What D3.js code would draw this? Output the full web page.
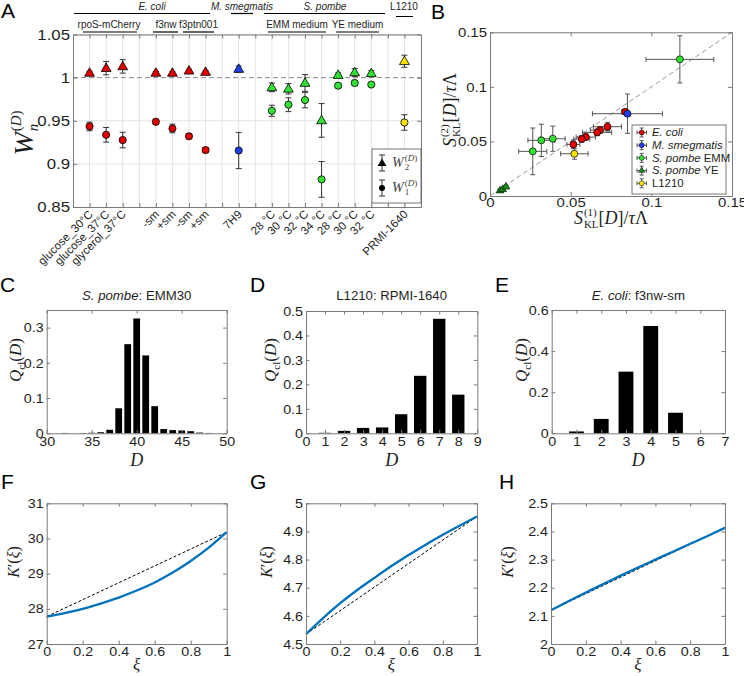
<!DOCTYPE html>
<html><head><meta charset="utf-8">
<script src="https://cdn.jsdelivr.net/npm/d3@7"></script>
<style>body{margin:0;background:#fff;} svg{display:block;}</style>
</head><body>
<svg id="fig" width="744" height="676"></svg>
<script>
// ---------------- DATA ----------------
// Panel A
const aTickLabels = ["glucose_30°C","glucose_37°C","glycerol_37°C","","-sm","+sm","-sm","+sm","","7H9","","28 °C","30 °C","32 °C","34 °C","28 °C","30 °C","32 °C","","PRMI-1640"];
const aPos   = [1,2,3,5,6,7,8,10,12,13,14,15,16,17,18,20];
const aOrg   = ["E","E","E","E","E","E","E","M","P","P","P","P","Y","Y","Y","L"];
const aW2    = [1.0055,1.011,1.013,1.0055,1.0055,1.008,1.0065,1.010,0.9887,0.987,0.9938,0.9504,1.003,1.006,1.005,1.019];
const aW2err = [0.002,0.0078,0.0078,0.0015,0.0015,0.0015,0.0015,0.0035,0.005,0.006,0.0097,0.0195,0.0025,0.0045,0.003,0.007];
const aW1    = [0.9434,0.9337,0.9276,0.9488,0.941,0.932,0.916,0.9155,0.9616,0.9686,0.974,0.882,0.9907,0.9938,0.992,0.948];
const aW1err = [0.005,0.0085,0.009,0.003,0.005,0.003,0.003,0.021,0.0064,0.008,0.009,0.0207,0.0025,0.0025,0.002,0.009];
const aYTicks = [0.85,0.9,0.95,1,1.05];
// Panel B
const bOrg  = ["E","E","E","E","E","E","E","M","P","P","P","P","Y","Y","Y","L"];
const bX    = [0.0837,0.0728,0.0682,0.0664,0.0594,0.0569,0.0517,0.0852,0.1177,0.0389,0.0318,0.0265,0.0062,0.0079,0.0099,0.0523];
const bY    = [0.0772,0.0635,0.0604,0.0583,0.054,0.0522,0.0473,0.0754,0.1252,0.0525,0.051,0.0409,0.0049,0.0061,0.0085,0.0387];
const bXerr = [0.002,0.0087,0.006,0.009,0.006,0.005,0.004,0.0217,0.021,0.0077,0.0083,0.0087,0.001,0.001,0.001,0.0085];
const bYerr = [0.002,0.004,0.003,0.003,0.003,0.003,0.004,0.018,0.0216,0.0115,0.0148,0.0214,0.001,0.001,0.001,0.005];
const bTicks = [0,0.05,0.1,0.15];
const bLegend = [["E. coli",""],["M. smegmatis",""],["S. pombe"," EMM"],["S. pombe"," YE"],["","L1210"]];
const bLegendOrg = ["E","M","P","Y","L"];
// Panel C, D, E
const cD = [31,32,33,34,35,36,37,38,39,40,41,42,43,44,45,46,47,48,49];
const cQ = [0,0.001,0,0.001,0.0015,0.003,0.010,0.071,0.253,0.326,0.221,0.077,0.012,0.009,0.008,0.006,0.002,0.001,0];
const dD = [1,2,3,4,5,6,7,8];
const dQ = [0.002,0.01,0.022,0.024,0.078,0.235,0.468,0.158];
const eD = [1,2,3,4,5];
const eQ = [0.009,0.07,0.3,0.522,0.1];
// Panel F, G, H
const xiVals = [0,0.1,0.2,0.3,0.4,0.5,0.6,0.7,0.8,0.9,1];
const kF = [27.78,27.88,28.00,28.15,28.32,28.52,28.75,29.03,29.36,29.74,30.18];
const kG = [4.535,4.592,4.645,4.692,4.735,4.777,4.816,4.853,4.888,4.921,4.953];
const kH = [2.120,2.152,2.183,2.213,2.243,2.272,2.300,2.328,2.356,2.384,2.413];

// ---------------- HELPERS ----------------
const svg = d3.select('#fig');
const SANS = '"Liberation Sans", Arial, Helvetica, sans-serif';
const SERIF = '"Liberation Serif", "Times New Roman", serif';
const AXC = '#7a7a7a';
const TXT = '#1e1e1e';
const colA = {E:'#e00000', M:'#1f3ee6', P:'#33e033', Y:'#33e033', L:'#f5e400'};
const colB = {E:'#e00000', M:'#1f3ee6', P:'#33e033', Y:'#139313', L:'#f5e400'};

function stretch(sel, f) {
  sel.each(function(){
    const w = this.getComputedTextLength();
    if (w > 0) { this.setAttribute('textLength', w * f); this.setAttribute('lengthAdjust', 'spacingAndGlyphs'); }
  });
}

function axesBox(b, xs, ys, cfg) {
  const g = svg.append('g');
  const mk = (axis, tr, labels) => {
    const a = g.append('g').attr('transform', tr).call(axis);
    a.select('.domain').attr('stroke', AXC);
    a.selectAll('.tick line').attr('stroke', AXC);
    a.selectAll('text').attr('font-family', SANS).attr('font-size', cfg.fs).attr('fill', TXT);
    if (!labels) a.selectAll('text').remove();
    return a;
  };
  const fmt = d3.format('');
  const xb = mk(d3.axisBottom(xs).tickValues(cfg.xt).tickFormat(fmt).tickSizeInner(-cfg.tl).tickSizeOuter(0).tickPadding(cfg.xp || 3), `translate(0,${b.b})`, cfg.xlabels !== false);
  mk(d3.axisTop(xs).tickValues(cfg.xt).tickSizeInner(-cfg.tl).tickSizeOuter(0), `translate(0,${b.t})`, false);
  const yl = mk(d3.axisLeft(ys).tickValues(cfg.yt).tickFormat(fmt).tickSizeInner(-cfg.tl).tickSizeOuter(0).tickPadding(cfg.yp || 3), `translate(${b.l},0)`, true);
  mk(d3.axisRight(ys).tickValues(cfg.yt).tickSizeInner(-cfg.tl).tickSizeOuter(0), `translate(${b.r},0)`, false);
  stretch(xb.selectAll('text'), cfg.st || 1.1);
  stretch(yl.selectAll('text'), cfg.st || 1.1);
  return g;
}

function mathText(parent, x, y, rot, items, anchor) {
  const g = parent.append('g').attr('transform', `translate(${x},${y}) rotate(${rot})`);
  let cx = 0, stackX = 0;
  const nodes = [];
  items.forEach(it => {
    const t = g.append('text').attr('font-family', SERIF).attr('font-size', it.s)
      .attr('fill', it.c || TXT).attr('y', it.dy || 0);
    const parts = typeof it.t === 'string' ? [[it.t, it.i]] : it.t;
    parts.forEach(p => t.append('tspan').text(p[0]).attr('font-style', p[1] ? 'italic' : 'normal'));
    let sx;
    if (it.stack) sx = stackX; else { sx = cx + (it.gap || 0); stackX = sx; }
    t.attr('x', sx);
    const w = t.node().getComputedTextLength();
    cx = it.stack ? Math.max(cx, sx + w) : sx + w;
    nodes.push(t);
  });
  const shift = anchor === 'start' ? 0 : -cx / 2;
  nodes.forEach(t => t.attr('x', +t.attr('x') + shift));
  return g;
}

function panelLetter(t, x, y) {
  svg.append('text').attr('x', x).attr('y', y).text(t).attr('font-family', SANS)
    .attr('font-size', 21).attr('fill', '#000');
}

function vErr(g, x, y0, y1, cap, color, w) {
  g.append('line').attr('x1', x).attr('x2', x).attr('y1', y0).attr('y2', y1).attr('stroke', color).attr('stroke-width', w);
  [y0, y1].forEach(y => g.append('line').attr('x1', x - cap).attr('x2', x + cap).attr('y1', y).attr('y2', y).attr('stroke', color).attr('stroke-width', w));
}
function hErr(g, y, x0, x1, cap, color, w) {
  g.append('line').attr('x1', x0).attr('x2', x1).attr('y1', y).attr('y2', y).attr('stroke', color).attr('stroke-width', w);
  [x0, x1].forEach(x => g.append('line').attr('x1', x).attr('x2', x).attr('y1', y - cap).attr('y2', y + cap).attr('stroke', color).attr('stroke-width', w));
}

// ---------------- PANEL A ----------------
const A = {l:73, r:421, t:34.5, b:207};
const axs = d3.scaleLinear().domain([0, 21]).range([A.l, A.r]);
const ays = d3.scaleLinear().domain([0.85, 1.05]).range([A.b, A.t]);
const gA = svg.append('g');
gA.selectAll('line.vg').data(d3.range(1, 21)).join('line').attr('class', 'vg')
  .attr('x1', d => axs(d)).attr('x2', d => axs(d)).attr('y1', A.t).attr('y2', A.b).attr('stroke', '#e3e3e3');
gA.selectAll('line.hg').data([0.9, 0.95, 1.05]).join('line').attr('class', 'hg')
  .attr('x1', A.l).attr('x2', A.r).attr('y1', d => ays(d)).attr('y2', d => ays(d)).attr('stroke', '#e3e3e3');
gA.append('line').attr('x1', A.l).attr('x2', A.r).attr('y1', ays(1)).attr('y2', ays(1))
  .attr('stroke', '#8a8a8a').attr('stroke-dasharray', '5,3').attr('stroke-width', 1);
const gAd = svg.append('g');
aPos.forEach((p, i) => {
  const x = axs(p);
  vErr(gAd, x, ays(aW2[i] + aW2err[i]), ays(aW2[i] - aW2err[i]), 3, '#333', 1);
  vErr(gAd, x, ays(aW1[i] + aW1err[i]), ays(aW1[i] - aW1err[i]), 3, '#333', 1);
  gAd.append('path').attr('d', d3.symbol(d3.symbolTriangle, 42)()).attr('transform', `translate(${x},${ays(aW2[i]) + 0.5})`)
    .attr('fill', colA[aOrg[i]]).attr('stroke', '#000').attr('stroke-width', 0.8);
  gAd.append('circle').attr('cx', x).attr('cy', ays(aW1[i])).attr('r', 3.6)
    .attr('fill', colA[aOrg[i]]).attr('stroke', '#000').attr('stroke-width', 0.8);
});
axesBox(A, axs, ays, {xt: d3.range(1, 21), yt: aYTicks, fs: 15, tl: 4, xlabels: false, yp: 3, st: 1.12});
// rotated category labels
const gAl = svg.append('g');
aTickLabels.forEach((t, i) => {
  if (!t) return;
  gAl.append('text').attr('transform', `translate(${axs(i + 1) + 4},${215}) rotate(-45)`)
    .attr('text-anchor', 'end').attr('font-family', SANS).attr('font-size', 11.5).attr('fill', TXT).text(t);
});
// group header labels
const hdr1 = [["E. coli", 152, 74, 210], ["M. smegmatis", 242, 231, 253], ["S. pombe", 325, 264, 385]];
hdr1.forEach(h => {
  svg.append('text').attr('x', h[1]).attr('y', 10).attr('text-anchor', 'middle').attr('font-family', SANS)
    .attr('font-size', 10).attr('font-style', 'italic').attr('fill', TXT).text(h[0]);
  svg.append('line').attr('x1', h[2]).attr('x2', h[3]).attr('y1', 13.5).attr('y2', 13.5).attr('stroke', '#000').attr('stroke-width', 1.2);
});
svg.append('text').attr('x', 404).attr('y', 10).attr('text-anchor', 'middle').attr('font-family', SANS)
  .attr('font-size', 10).attr('fill', TXT).text('L1210');
svg.append('line').attr('x1', 396).attr('x2', 413).attr('y1', 16.5).attr('y2', 16.5).attr('stroke', '#000').attr('stroke-width', 1);
const hdr2 = [["rpoS-mCherry", 109, 83, 137], ["f3nw", 166, 153, 178], ["f3ptn001", 198.5, 183, 214], ["EMM medium", 297, 268, 326], ["YE medium", 357.5, 336, 379]];
hdr2.forEach(h => {
  svg.append('text').attr('x', h[1]).attr('y', 28).attr('text-anchor', 'middle').attr('font-family', SANS)
    .attr('font-size', 10).attr('fill', TXT).text(h[0]);
  svg.append('line').attr('x1', h[2]).attr('x2', h[3]).attr('y1', 32).attr('y2', 32).attr('stroke', '#000').attr('stroke-width', 1.2);
});
// legend A
const gLA = svg.append('g');
gLA.append('rect').attr('x', 372).attr('y', 149).attr('width', 49).attr('height', 54).attr('fill', '#fff').attr('stroke', '#555').attr('stroke-width', 0.8);
vErr(gLA, 382, 155, 171, 3, '#333', 1);
gLA.append('path').attr('d', d3.symbol(d3.symbolTriangle, 34)()).attr('transform', 'translate(382,163.5)').attr('fill', '#000');
vErr(gLA, 382, 180, 196, 3, '#333', 1);
gLA.append('circle').attr('cx', 382).attr('cy', 188).attr('r', 3).attr('fill', '#000');
mathText(gLA, 392, 167, 0, [{t:'W', i:1, s:14, c:'#444'}, {t:[['(',0],['D',1],[')',0]], s:9, dy:-6, c:'#444', gap:1}, {t:'2', s:9, dy:3, stack:1, c:'#444'}], 'start');
mathText(gLA, 392, 192, 0, [{t:'W', i:1, s:14, c:'#444'}, {t:[['(',0],['D',1],[')',0]], s:9, dy:-6, c:'#444', gap:1}, {t:'1', s:9, dy:3, stack:1, c:'#444'}], 'start');
// y label A
mathText(svg, 33, 133, -90, [{t:'W', i:1, s:28}, {t:[['(',0],['D',1],[')',0]], s:15, dy:-12, gap:1}, {t:'n', i:1, s:15, dy:5, stack:1}]);
panelLetter('A', 1, 18);

// ---------------- PANEL B ----------------
const B = {l:490, r:732, t:32.3, b:196};
const bxs = d3.scaleLinear().domain([0, 0.15]).range([B.l, B.r]);
const bys = d3.scaleLinear().domain([0, 0.15]).range([B.b, B.t]);
const gB = svg.append('g');
gB.append('line').attr('x1', bxs(0)).attr('y1', bys(0)).attr('x2', bxs(0.15)).attr('y2', bys(0.15))
  .attr('stroke', '#9a9a9a').attr('stroke-dasharray', '5,3').attr('stroke-width', 1);
bX.forEach((x, i) => {
  hErr(gB, bys(bY[i]), bxs(x - bXerr[i]), bxs(x + bXerr[i]), 2.5, '#555', 1);
  vErr(gB, bxs(x), bys(bY[i] + bYerr[i]), bys(bY[i] - bYerr[i]), 2.5, '#555', 1);
});
bX.forEach((x, i) => {
  if (bOrg[i] === 'Y') {
    gB.append('path').attr('d', d3.symbol(d3.symbolTriangle, 26)()).attr('transform', `translate(${bxs(x)},${bys(bY[i])})`)
      .attr('fill', colB.Y).attr('stroke', '#000').attr('stroke-width', 0.6);
  } else {
    gB.append('circle').attr('cx', bxs(x)).attr('cy', bys(bY[i])).attr('r', 3.5)
      .attr('fill', colB[bOrg[i]]).attr('stroke', '#000').attr('stroke-width', 0.7);
  }
});
axesBox(B, bxs, bys, {xt: bTicks, yt: bTicks, fs: 13, tl: 4, st: 1.15, xp: 2});
// legend B
const gLB = svg.append('g');
gLB.append('rect').attr('x', 632).attr('y', 125).attr('width', 94).attr('height', 69).attr('fill', '#fff').attr('stroke', '#555').attr('stroke-width', 0.8);
bLegend.forEach((lab, i) => {
  const y = 132.5 + i * 12.7;
  hErr(gLB, y, 637, 646.5, 2, '#555', 1);
  vErr(gLB, 641.7, y - 4.5, y + 4.5, 2, '#555', 1);
  if (bLegendOrg[i] === 'Y') {
    gLB.append('path').attr('d', d3.symbol(d3.symbolTriangle, 16)()).attr('transform', `translate(641.7,${y})`).attr('fill', colB.Y).attr('stroke', '#000').attr('stroke-width', 0.5);
  } else {
    gLB.append('circle').attr('cx', 641.7).attr('cy', y).attr('r', 2.5).attr('fill', colB[bLegendOrg[i]]).attr('stroke', '#000').attr('stroke-width', 0.5);
  }
  const t = gLB.append('text').attr('x', 652).attr('y', y + 3.8).attr('font-family', SANS).attr('font-size', 10.5).attr('fill', TXT);
  if (lab[0]) t.append('tspan').attr('font-style', 'italic').text(lab[0]);
  if (lab[1]) t.append('tspan').text(lab[1]);
  stretch(t, 1.08);
});
mathText(svg, 611, 224, 0, [{t:'S', i:1, s:18}, {t:'(1)', s:11, dy:-8, gap:1}, {t:'KL', s:11, dy:4, stack:1}, {t:[['[',0],['D',1],[']/',0],['τ',1],['Λ',0]], s:18}]);
mathText(svg, 456, 110, -90, [{t:'S', i:1, s:18}, {t:'(2)', s:11, dy:-8, gap:1}, {t:'KL', s:11, dy:4, stack:1}, {t:[['[',0],['D',1],[']/',0],['τ',1],['Λ',0]], s:18}]);
panelLetter('B', 431, 18.5);

// ---------------- PANELS C, D, E ----------------
function barPanel(box, xdom, xt, ydom, yt, D, Q, bw, title, ylabX, letter, lx) {
  const xs = d3.scaleLinear().domain(xdom).range([box.l, box.r]);
  const ys = d3.scaleLinear().domain(ydom).range([box.b, box.t]);
  const unit = xs(1) - xs(0);
  svg.append('g').selectAll('rect').data(D).join('rect')
    .attr('x', (d) => xs(d) - bw * unit / 2).attr('width', bw * unit)
    .attr('y', (d, i) => ys(Q[i])).attr('height', (d, i) => ys(0) - ys(Q[i]))
    .attr('fill', '#000');
  axesBox(box, xs, ys, {xt, yt, fs: 13, tl: 3.5, st: 1.1});
  const cxm = (box.l + box.r) / 2;
  const t = svg.append('text').attr('x', cxm).attr('y', 300).attr('text-anchor', 'middle')
    .attr('font-family', SANS).attr('font-size', 12).attr('fill', TXT);
  title.forEach(p => t.append('tspan').attr('font-style', p[1] ? 'italic' : 'normal').text(p[0]));
  stretch(t, 1.1);
  mathText(svg, ylabX, 360, -90, [{t:'Q', i:1, s:17}, {t:'cl', s:11, dy:4}, {t:[['(',0],['D',1],[')',0]], s:17}]);
  mathText(svg, cxm, 466, 0, [{t:'D', i:1, s:18}]);
  panelLetter(letter, lx, 292);
}
barPanel({l:46.7, r:226.7, t:310, b:433.3}, [30, 50], [30,35,40,45,50], [0, 0.35], [0,0.1,0.2,0.3], cD, cQ, 0.75,
  [["S. pombe", 1], [": EMM30", 0]], 21, 'C', 0);
barPanel({l:306, r:477.3, t:311, b:433.3}, [0, 9], d3.range(0, 10), [0, 0.5], [0,0.1,0.2,0.3,0.4,0.5], dD, dQ, 0.65,
  [["L1210: RPMI-1640", 0]], 276, 'D', 250);
barPanel({l:551.7, r:725, t:310, b:433.3}, [0, 7], d3.range(0, 8), [0, 0.6], [0,0.2,0.4,0.6], eD, eQ, 0.6,
  [["E. coli", 1], [": f3nw-sm", 0]], 527, 'E', 495);

// ---------------- PANELS F, G, H ----------------
function curvePanel(box, ydom, yt, K, ylabX, letter, lx) {
  const xs = d3.scaleLinear().domain([0, 1]).range([box.l, box.r]);
  const ys = d3.scaleLinear().domain(ydom).range([box.b, box.t]);
  const g = svg.append('g');
  g.append('line').attr('x1', xs(xiVals[0])).attr('y1', ys(K[0])).attr('x2', xs(xiVals[xiVals.length - 1])).attr('y2', ys(K[K.length - 1]))
    .attr('stroke', '#000').attr('stroke-width', 1).attr('stroke-dasharray', '3,2');
  const line = d3.line().x((d, i) => xs(xiVals[i])).y(d => ys(d)).curve(d3.curveMonotoneX);
  g.append('path').attr('d', line(K)).attr('fill', 'none').attr('stroke', '#0072BD').attr('stroke-width', 2.3);
  axesBox(box, xs, ys, {xt: [0,0.2,0.4,0.6,0.8,1], yt, fs: 13, tl: 3.5, st: 1.1});
  const cxm = (box.l + box.r) / 2;
  mathText(svg, ylabX, 562, -90, [{t:'K', i:1, s:16}, {t:[['′(',0],['ξ',1],[')',0]], s:16}]);
  mathText(svg, cxm, 670, 0, [{t:'ξ', i:1, s:17}]);
  panelLetter(letter, lx, 489);
}
curvePanel({l:46.7, r:226.7, t:503.3, b:644}, [27, 31], [27,28,29,30,31], kF, 18.5, 'F', 1);
curvePanel({l:306, r:477, t:503.3, b:644}, [4.5, 5], [4.5,4.6,4.7,4.8,4.9,5], kG, 272, 'G', 250);
curvePanel({l:551, r:725, t:503.3, b:644}, [2, 2.5], [2,2.1,2.2,2.3,2.4,2.5], kH, 513, 'H', 499);
</script>
</body></html>
